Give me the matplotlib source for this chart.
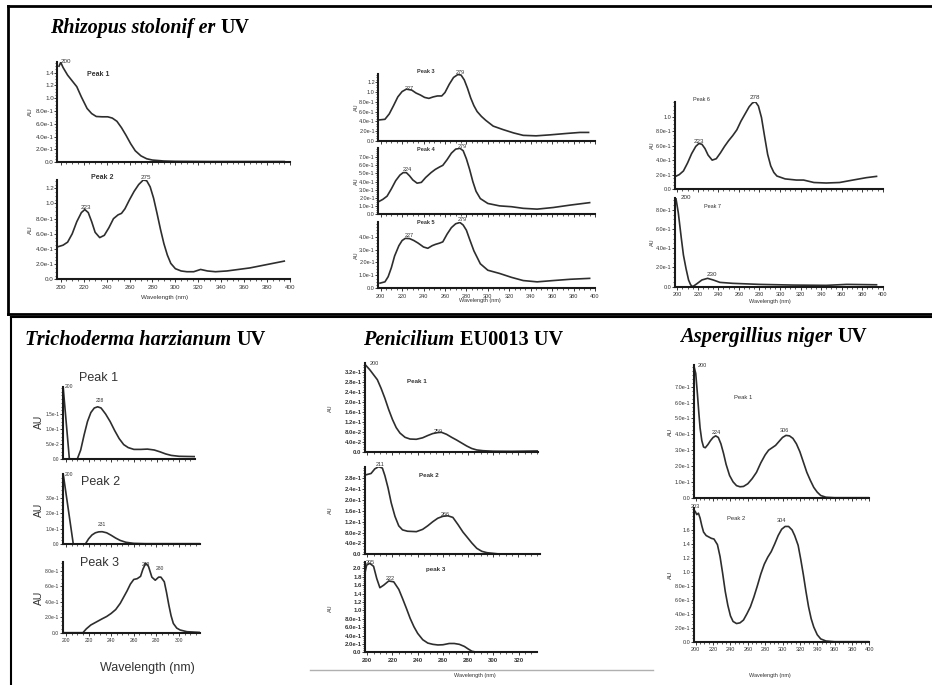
import numpy as np
import matplotlib
matplotlib.use('Agg')
import matplotlib.pyplot as plt
from matplotlib.ticker import MultipleLocator, FuncFormatter, FixedLocator

W, H = 932, 685

# ---------------- data (wavelength nm / absorbance AU) ----------------
# Rhizopus stolonifer
rhizo_p1_wl = [198.5, 200, 202, 206, 210, 214, 218, 223, 227, 231, 236, 241, 245, 249, 253, 257, 261, 265, 270, 275,
               280, 290, 300, 330, 360, 395]
rhizo_p1_au = [1.50, 1.56, 1.48, 1.36, 1.27, 1.18, 1.02, 0.84, 0.76, 0.715, 0.71, 0.71, 0.69, 0.64, 0.54, 0.42, 0.29,
               0.18, 0.10, 0.055, 0.035, 0.02, 0.015, 0.012, 0.012, 0.012]
rhizo_p2_wl = [197.7, 202, 206, 210, 214, 218, 221, 224, 227, 230, 234, 238, 242, 246, 250, 253, 256, 260, 264, 268,
               272, 275, 278, 281, 284, 287, 290, 293, 296, 300, 305, 310, 316, 322, 328, 335, 345, 355, 365, 375, 385, 395]
rhizo_p2_au = [0.43, 0.45, 0.49, 0.60, 0.76, 0.88, 0.92, 0.88, 0.76, 0.62, 0.55, 0.58, 0.68, 0.80, 0.85, 0.87, 0.93,
               1.05, 1.16, 1.25, 1.31, 1.30, 1.22, 1.07, 0.87, 0.66, 0.47, 0.32, 0.21, 0.14, 0.11, 0.10, 0.10, 0.13,
               0.11, 0.10, 0.11, 0.13, 0.15, 0.18, 0.21, 0.24]
rhizo_p3_wl = [197.8, 204, 208, 212, 216, 220, 224, 229, 233, 237, 241, 245, 249, 253, 257, 260, 264, 268, 272, 275,
               278, 281, 284, 287, 290, 294, 298, 305, 314, 324, 333, 345, 358, 374, 386, 394]
rhizo_p3_au = [0.425, 0.44, 0.55, 0.72, 0.90, 1.01, 1.06, 1.04, 0.98, 0.94, 0.89, 0.87, 0.90, 0.92, 0.92, 0.99, 1.16,
               1.30, 1.36, 1.35, 1.25, 1.08, 0.88, 0.72, 0.60, 0.50, 0.42, 0.30, 0.23, 0.16, 0.11, 0.10, 0.12, 0.15,
               0.17, 0.17]
rhizo_p4_wl = [197.8, 202, 206, 210, 214, 218, 221, 224, 227, 230, 234, 238, 242, 247, 251, 255, 258, 262, 266, 270,
               274, 277, 280, 283, 286, 289, 293, 300, 311, 322, 333, 346, 361, 377, 395]
rhizo_p4_au = [0.15, 0.18, 0.22, 0.31, 0.41, 0.48, 0.51, 0.51, 0.47, 0.42, 0.38, 0.39, 0.45, 0.51, 0.55, 0.58, 0.60,
               0.67, 0.75, 0.80, 0.81, 0.78, 0.68, 0.55, 0.40, 0.28, 0.19, 0.13, 0.10, 0.09, 0.07, 0.06, 0.08, 0.11, 0.14]
rhizo_p5_wl = [199.4, 204, 207, 210, 213, 217, 220, 223, 227, 231, 235, 240, 244, 248, 251, 255, 258, 262, 266, 270,
               274, 277, 280, 283, 287, 293, 300, 311, 322, 333, 346, 361, 377, 395]
rhizo_p5_au = [0.04, 0.05, 0.09, 0.16, 0.25, 0.33, 0.37, 0.387, 0.385, 0.37, 0.35, 0.32, 0.31, 0.33, 0.34, 0.35, 0.36,
               0.42, 0.47, 0.50, 0.51, 0.49, 0.45, 0.38, 0.29, 0.19, 0.14, 0.115, 0.085, 0.06, 0.05, 0.06, 0.07, 0.077]
rhizo_p6_wl = [197.7, 202, 206, 210, 214, 218, 221, 224, 227, 230, 234, 238, 242, 246, 250, 254, 258, 262, 266, 270,
               273, 276, 279, 282, 285, 288, 291, 294, 297, 305, 316, 323, 333, 345, 358, 371, 384, 394]
rhizo_p6_au = [0.17, 0.20, 0.25, 0.36, 0.49, 0.59, 0.63, 0.62, 0.56, 0.47, 0.40, 0.42, 0.50, 0.59, 0.67, 0.74, 0.82,
               0.94, 1.04, 1.14, 1.19, 1.21, 1.15, 0.99, 0.73, 0.48, 0.32, 0.23, 0.18, 0.14, 0.124, 0.124, 0.09, 0.083,
               0.09, 0.124, 0.157, 0.175]
rhizo_p7_wl = [198.7, 201, 204, 206, 208.5, 211, 213, 215, 219, 224, 229.5, 235, 241.5, 254, 280, 313, 345, 365, 394]
rhizo_p7_au = [0.92, 0.77, 0.50, 0.33, 0.19, 0.07, 0.02, 0.0, 0.03, 0.07, 0.087, 0.07, 0.045, 0.035, 0.024, 0.017,
               0.014, 0.024, 0.02]

# Trichoderma harzianum
tricho_p1_wl = [197.5, 203, 210, 213, 216, 219, 222, 225, 228, 231, 235, 239, 243, 247, 251, 255, 260, 266, 272, 278,
                283, 288, 293, 300, 314]
tricho_p1_au = [0.24, 0.0, 0.0, 0.03, 0.08, 0.125, 0.155, 0.17, 0.174, 0.17, 0.15, 0.125, 0.095, 0.068, 0.048, 0.038,
                0.032, 0.032, 0.033, 0.030, 0.024, 0.017, 0.012, 0.009, 0.008]
tricho_p2_wl = [197.6, 206.5, 217, 220, 223, 226, 229, 232, 236, 240, 244, 248, 253, 260, 270, 290, 318]
tricho_p2_au = [0.45, 0.0, 0.0, 0.035, 0.06, 0.074, 0.080, 0.081, 0.074, 0.058, 0.040, 0.025, 0.013, 0.006, 0.004,
                0.004, 0.004]
tricho_p3_wl = [197.2, 215, 218, 222, 227, 232, 236, 240, 244, 248, 251, 254, 257, 260, 263, 266, 268, 270.5, 273, 276,
                279, 282, 284, 287, 289, 291, 293, 295, 298, 301, 307, 318]
tricho_p3_au = [0.0, 0.0, 0.05, 0.10, 0.14, 0.18, 0.21, 0.25, 0.30, 0.38, 0.46, 0.54, 0.63, 0.69, 0.70, 0.73, 0.82,
                0.90, 0.86, 0.72, 0.68, 0.72, 0.72, 0.66, 0.52, 0.36, 0.22, 0.12, 0.06, 0.035, 0.013, 0.004]

# Penicilium EU0013
penic_p1_wl = [198.1, 202, 205, 208, 211, 214, 217, 220, 223, 226, 230, 234, 239, 244, 248, 252, 256, 259, 263, 267,
               271, 275, 279, 283, 287, 292, 300, 315, 335]
penic_p1_au = [0.352, 0.33, 0.31, 0.29, 0.255, 0.215, 0.17, 0.13, 0.097, 0.075, 0.058, 0.051, 0.05, 0.056, 0.065,
               0.073, 0.077, 0.078, 0.07, 0.058, 0.047, 0.035, 0.023, 0.013, 0.007, 0.004, 0.002, 0.0015, 0.003]
penic_p2_wl = [198.1, 203, 206, 209, 212, 214, 216.5, 219, 222, 225, 228, 232, 239, 244, 248, 252, 256, 260, 264, 268,
               272, 276, 279, 283, 287, 291, 295, 305, 337]
penic_p2_au = [0.292, 0.298, 0.315, 0.323, 0.318, 0.29, 0.245, 0.19, 0.14, 0.105, 0.09, 0.085, 0.0835, 0.092, 0.105,
               0.12, 0.133, 0.14, 0.142, 0.136, 0.11, 0.082, 0.065, 0.042, 0.022, 0.011, 0.006, 0.001, 0.001]
penic_p3_wl = [198.1, 199.5, 202, 205, 207.5, 210, 213, 217, 221, 225, 228, 231, 234, 237, 240, 244, 248, 252, 256,
               260, 265, 269, 273, 277, 280, 283, 287, 300, 335]
penic_p3_au = [1.88, 2.08, 2.12, 2.05, 1.76, 1.54, 1.60, 1.70, 1.68, 1.50, 1.28, 1.05, 0.81, 0.61, 0.45, 0.30, 0.22,
               0.19, 0.175, 0.18, 0.21, 0.21, 0.19, 0.14, 0.08, 0.025, 0.0, 0.0, 0.0]

# Aspergillius niger
asper_p1_wl = [198.1, 200, 202, 203.5, 205, 207, 209, 211, 214, 217, 220, 223, 226, 229, 232, 235, 239, 243, 247, 251,
               255, 260, 265, 270, 275, 280, 284, 288, 292, 296, 300, 304, 308, 312, 316, 320, 324, 328, 332, 336, 340,
               344, 350, 360, 399]
asper_p1_au = [0.826, 0.784, 0.65, 0.54, 0.44, 0.36, 0.32, 0.315, 0.335, 0.36, 0.38, 0.39, 0.38, 0.34, 0.28, 0.21,
               0.14, 0.10, 0.076, 0.069, 0.071, 0.088, 0.12, 0.16, 0.22, 0.27, 0.30, 0.315, 0.33, 0.355, 0.38, 0.393,
               0.39, 0.374, 0.34, 0.29, 0.225, 0.16, 0.11, 0.065, 0.035, 0.014, 0.003, 0.0, 0.0]
asper_p2_wl = [197.3, 199.2, 201.2, 203.1, 205, 207, 209, 212, 215, 218, 221, 225, 228, 231, 234, 237, 240, 243, 247,
               251, 255, 259, 263, 267, 271, 275, 279, 283, 287, 291, 295, 299, 303, 307, 311, 314, 318, 321, 324, 327,
               330, 333, 336, 340, 344, 350, 360, 399]
asper_p2_au = [1.85, 1.87, 1.82, 1.84, 1.77, 1.66, 1.57, 1.52, 1.50, 1.48, 1.47, 1.39, 1.22, 0.98, 0.72, 0.52, 0.37,
               0.29, 0.26, 0.27, 0.31, 0.40, 0.50, 0.64, 0.80, 0.97, 1.11, 1.21, 1.29, 1.40, 1.52, 1.61, 1.65, 1.65,
               1.60, 1.52, 1.38, 1.18, 0.96, 0.72, 0.50, 0.33, 0.21, 0.10, 0.04, 0.01, 0.0, 0.0]

LINE = '#2e2e2e'
SANS = ['Liberation Sans', 'DejaVu Sans']
NARROW = ['Liberation Sans Narrow', 'Liberation Sans', 'DejaVu Sans']
SERIF = ['Liberation Serif', 'DejaVu Serif']


def fmt_au(v, pos=None):
    # absorbance labels the way the instrument software writes them
    if abs(v) < 1e-9:
        return '0.0'
    if v >= 0.999:
        return f'{v:.1f}'
    m, e = f'{v:.1e}'.split('e')
    return f'{m}e{int(e)}'


fig = plt.figure(figsize=(W / 100, H / 100), dpi=100)
bg = fig.add_axes([0, 0, 1, 1])
bg.set_xlim(0, W)
bg.set_ylim(H, 0)
bg.axis('off')


def spectrum(box, wl, au, xlim, ymax, ytop, ystep, xstep=20, xlabels=False, fs=4.5,
             family=SANS, weight='normal'):
    left, top, right, bottom = box
    ax = fig.add_axes([left / W, 1 - bottom / H, (right - left) / W, (bottom - top) / H])
    ax.patch.set_alpha(0)
    ax.plot(wl, au, color=LINE, lw=1.2, solid_joinstyle='round')
    ax.set_xlim(*xlim)
    ax.set_ylim(0, ymax)
    ax.yaxis.set_major_locator(FixedLocator(np.arange(0, ytop + ystep / 2, ystep)))
    ax.yaxis.set_minor_locator(FixedLocator(np.arange(0, ymax, ystep / 4)))
    ax.yaxis.set_major_formatter(FuncFormatter(fmt_au))
    ax.xaxis.set_major_locator(MultipleLocator(xstep))
    ax.xaxis.set_minor_locator(MultipleLocator(xstep / 4))
    for s in ['top', 'right']:
        ax.spines[s].set_visible(False)
    for s in ['left', 'bottom']:
        ax.spines[s].set_linewidth(1.5)
        ax.spines[s].set_color('#1a1a1a')
    ax.tick_params(which='major', length=2, width=0.6, pad=0.5, colors='#1a1a1a', labelcolor='#333333')
    ax.tick_params(which='minor', length=1.2, width=0.5, colors='#1a1a1a')
    ax.tick_params(axis='x', pad=2)
    for lab in ax.get_yticklabels() + ax.get_xticklabels():
        lab.set_fontsize(fs)
        lab.set_family(family)
        lab.set_weight(weight)
    if not xlabels:
        ax.tick_params(axis='x', labelbottom=False)
    return ax


def note(x, y, s, fs=4.5, family=SANS, weight='normal', color='#333333', rot=0):
    bg.text(x, y, s, fontsize=fs, family=family, weight=weight, color=color,
            ha='center', va='center', rotation=rot)


def title(x, y, italic, upright, fs=14.5):
    t = bg.text(x, y, italic, fontsize=fs, family=SERIF, weight='bold', style='italic',
                ha='left', va='center', color='black')
    bg.annotate(upright, xy=(1, 0), xycoords=t, xytext=(4, 0), textcoords='offset points',
                fontsize=fs, family=SERIF, weight='bold', ha='left', va='bottom', color='black')


# ---------------- frames ----------------
bg.plot([8, W + 5], [6, 6], color='black', lw=2)
bg.plot([8, 8], [6, 313.5], color='black', lw=2)
bg.plot([8, W + 5], [313.5, 313.5], color='black', lw=2)
bg.plot([11, W + 5], [317, 317], color='black', lw=1.5)
bg.plot([11, 11], [317, H + 5], color='black', lw=1.5)
bg.plot([310, 653], [670, 670], color='#b0b0b0', lw=1)

# ---------------- Rhizopus stolonifer ----------------
title(50, 28, 'Rhizopus stolonif er', 'UV', fs=14.4)
xl_a = (197, 400)
spectrum((57.3, 61.7, 290, 162.3), rhizo_p1_wl, rhizo_p1_au, xl_a, 1.57, 1.4, 0.2)
spectrum((57.3, 180, 290, 279.3), rhizo_p2_wl, rhizo_p2_au, xl_a, 1.31, 1.2, 0.2, xlabels=True)
note(98.5, 74, 'Peak 1', fs=5, weight='bold')
note(102, 177, 'Peak 2', fs=5, weight='bold')
note(66, 61, '200', fs=4.5)
note(86, 207, '223', fs=4.5)
note(146, 177, '275', fs=4.5)
note(30, 112, 'AU', fs=4.5, rot=90)
note(30, 230, 'AU', fs=4.5, rot=90)
note(165, 297, 'Wavelength (nm)', fs=4.5)

xl_b = (197.8, 400)
spectrum((378.3, 74.3, 595, 140.7), rhizo_p3_wl, rhizo_p3_au, xl_b, 1.365, 1.2, 0.2, fs=4)
spectrum((378.3, 148.3, 595, 214), rhizo_p4_wl, rhizo_p4_au, xl_b, 0.81, 0.7, 0.1, fs=4)
spectrum((378.3, 221.7, 595, 288.3), rhizo_p5_wl, rhizo_p5_au, xl_b, 0.516, 0.4, 0.1, xlabels=True, fs=4)
note(426, 71, 'Peak 3', fs=4, weight='bold')
note(426, 149, 'Peak 4', fs=4, weight='bold')
note(426, 222, 'Peak 5', fs=4, weight='bold')
note(409, 88, '227', fs=4)
note(460, 72, '279', fs=4)
note(407, 169, '224', fs=4)
note(462, 146, '279', fs=4)
note(409, 235, '227', fs=4)
note(462, 219, '279', fs=4)
for yy in (107, 181, 255):
    note(356, yy, 'AU', fs=4, rot=90)
note(480, 300, 'Wavelength (nm)', fs=4)

xl_c = (197.8, 400)
spectrum((675, 101.7, 882.7, 189), rhizo_p6_wl, rhizo_p6_au, xl_c, 1.21, 1.0, 0.2, fs=4)
spectrum((675, 198.3, 882.7, 286.7), rhizo_p7_wl, rhizo_p7_au, xl_c, 0.92, 0.8, 0.2, xlabels=True, fs=4)
note(701, 99, 'Peak 6', fs=4)
note(713, 206, 'Peak 7', fs=4)
note(699, 141, '223', fs=4.5)
note(755, 97, '278', fs=4.5)
note(686, 197, '200', fs=4.5)
note(712, 274, '230', fs=4.5)
note(652, 145, 'AU', fs=4, rot=90)
note(652, 242, 'AU', fs=4, rot=90)
note(770, 301, 'Wavelength (nm)', fs=4)

# ---------------- Trichoderma harzianum ----------------
title(25, 340, 'Trichoderma harzianum', 'UV', fs=14.7)
spectrum((62.7, 386.7, 195, 459), tricho_p1_wl, tricho_p1_au, (197.1, 314), 0.241, 0.15, 0.05,
         fs=3.4, family=NARROW)
spectrum((62.7, 474.3, 200, 544.3), tricho_p2_wl, tricho_p2_au, (197.1, 318.6), 0.45, 0.3, 0.1,
         fs=3.4, family=NARROW)
spectrum((62.7, 561.7, 200, 632.7), tricho_p3_wl, tricho_p3_au, (197.1, 318.6), 0.92, 0.8, 0.2,
         xlabels=True, fs=3.6, family=NARROW)
note(99, 378, 'Peak 1', fs=9, family=NARROW)
note(101, 482, 'Peak 2', fs=9, family=NARROW)
note(100, 563, 'Peak 3', fs=9, family=NARROW)
note(69, 386, '200', fs=3.6, family=NARROW)
note(100, 400, '228', fs=3.6, family=NARROW)
note(69, 474, '200', fs=3.6, family=NARROW)
note(102, 524, '231', fs=3.6, family=NARROW)
note(146, 565, '269', fs=3.6, family=NARROW)
note(160, 569, '280', fs=3.6, family=NARROW)
for yy in (422, 510, 598):
    note(39, yy, 'AU', fs=7.5, family=NARROW, rot=90)
note(147, 668, 'Wavelength (nm)', fs=9, family=NARROW)

# ---------------- Penicilium EU0013 ----------------
title(363, 340, 'Penicilium', 'EU0013 UV', fs=14.6)
spectrum((365, 363.3, 538.3, 451.7), penic_p1_wl, penic_p1_au, (198.2, 335.9), 0.356, 0.32, 0.04,
         fs=4.3, weight='bold')
spectrum((365, 466.7, 540, 554.3), penic_p2_wl, penic_p2_au, (198.2, 337.2), 0.323, 0.28, 0.04,
         fs=4.3, weight='bold')
spectrum((365, 561.7, 537, 652.3), penic_p3_wl, penic_p3_au, (198.2, 334.6), 2.16, 2.0, 0.2,
         xlabels=True, fs=4.3, weight='bold')
note(417, 381, 'Peak 1', fs=4.5, weight='bold')
note(429, 475, 'Peak 2', fs=4.5, weight='bold')
note(436, 569, 'peak 3', fs=4.5, weight='bold')
note(374, 363, '200', fs=4)
note(438, 431, '259', fs=4)
note(380, 464, '211', fs=4)
note(445, 514, '266', fs=4)
note(370, 562, '205', fs=4)
note(390, 578, '222', fs=4)
for yy in (408, 510, 608):
    note(330, yy, 'AU', fs=4, rot=90)
note(475, 675, 'Wavelength (nm)', fs=4)

# ---------------- Aspergillius niger ----------------
title(680, 337, 'Aspergillius niger', 'UV', fs=14.9)
spectrum((694, 365, 869.3, 497.7), asper_p1_wl, asper_p1_au, (198, 400), 0.837, 0.7, 0.1,
         fs=4.0, family=NARROW)
spectrum((694, 508.3, 869.3, 641.7), asper_p2_wl, asper_p2_au, (198, 400), 1.91, 1.6, 0.2,
         xlabels=True, fs=4.0, family=NARROW)
note(743, 397, 'Peak 1', fs=4.2, family=NARROW)
note(736, 518, 'Peak 2', fs=4.2, family=NARROW)
note(702, 365, '200', fs=4, family=NARROW)
note(716, 432, '224', fs=4, family=NARROW)
note(784, 430, '306', fs=4, family=NARROW)
note(695, 506, '203', fs=4, family=NARROW)
note(781, 521, '304', fs=4, family=NARROW)
note(670, 432, 'AU', fs=4.2, family=NARROW, rot=90)
note(670, 575, 'AU', fs=4.2, family=NARROW, rot=90)
note(770, 675, 'Wavelength (nm)', fs=4, family=NARROW)

fig.savefig('out.png', dpi=100)
